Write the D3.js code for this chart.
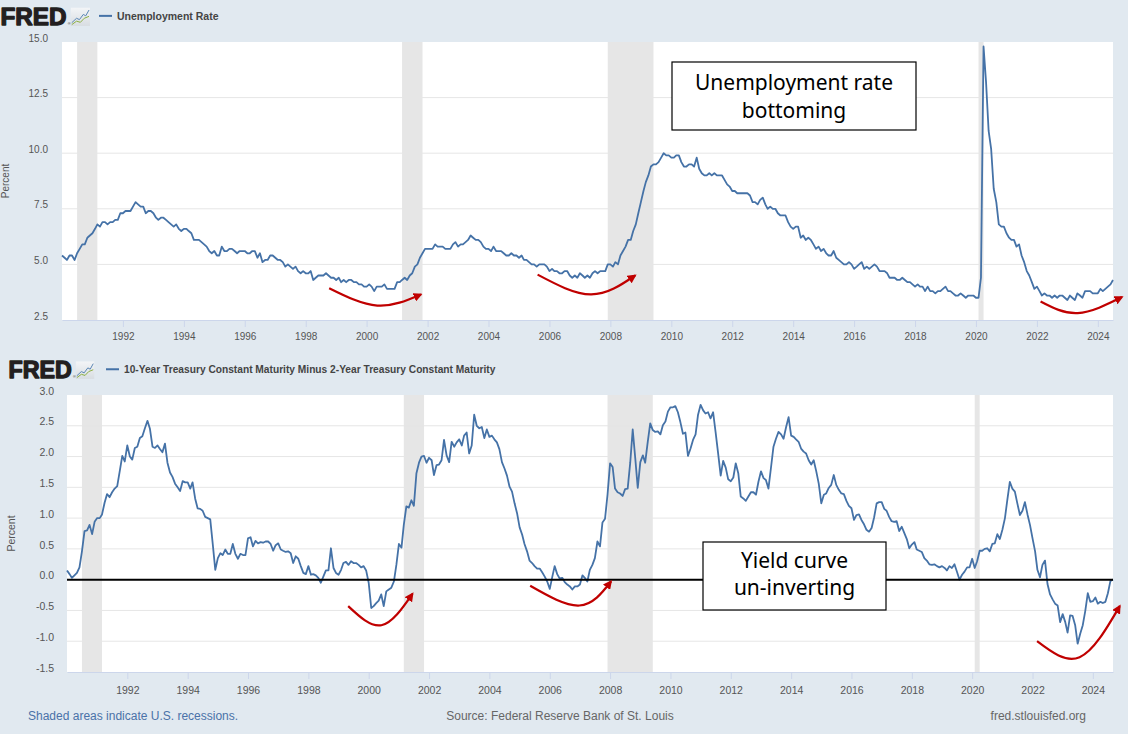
<!DOCTYPE html>
<html><head><meta charset="utf-8">
<script src="https://cdn.jsdelivr.net/npm/d3@7"></script>
<style>
html,body{margin:0;padding:0;background:#e1e9f0;}
svg{display:block;font-family:"Liberation Sans",Arial,sans-serif;}
</style></head><body>
<svg id="chart" width="1128" height="734"></svg>
<script>
// ---------------- DATA ----------------
const unrateTitle = "Unemployment Rate";
const spreadTitle = "10-Year Treasury Constant Maturity Minus 2-Year Treasury Constant Maturity";
const unrateStart = "1990-01";
const unrate = [
5.4,5.3,5.2,5.4,5.4,5.2,5.5,5.7,5.9,5.9,6.2,6.3,
6.4,6.6,6.8,6.7,6.9,6.9,6.8,6.9,6.9,7.0,7.0,7.3,
7.3,7.4,7.4,7.4,7.6,7.8,7.7,7.6,7.6,7.3,7.4,7.4,
7.3,7.1,7.0,7.1,7.1,7.0,6.9,6.8,6.7,6.8,6.6,6.5,
6.6,6.6,6.5,6.4,6.1,6.1,6.1,6.0,5.9,5.8,5.6,5.5,
5.6,5.4,5.4,5.8,5.6,5.6,5.7,5.7,5.6,5.5,5.6,5.6,
5.6,5.5,5.5,5.6,5.6,5.3,5.5,5.1,5.2,5.2,5.4,5.4,
5.3,5.2,5.2,5.1,4.9,5.0,4.9,4.8,4.9,4.7,4.6,4.7,
4.6,4.6,4.7,4.3,4.4,4.5,4.5,4.5,4.6,4.5,4.4,4.4,
4.3,4.4,4.2,4.3,4.2,4.3,4.3,4.2,4.2,4.1,4.1,4.0,
4.0,4.1,4.0,3.8,4.0,4.0,4.0,4.1,3.9,3.9,3.9,3.9,
4.2,4.2,4.3,4.4,4.3,4.5,4.6,4.9,5.0,5.3,5.5,5.7,
5.7,5.7,5.7,5.9,5.8,5.8,5.8,5.7,5.7,5.7,5.9,6.0,
5.8,5.9,5.9,6.0,6.1,6.3,6.2,6.1,6.1,6.0,5.8,5.7,
5.7,5.6,5.8,5.6,5.6,5.6,5.5,5.4,5.4,5.5,5.4,5.4,
5.3,5.4,5.2,5.2,5.1,5.0,5.0,4.9,5.0,5.0,5.0,4.9,
4.7,4.8,4.7,4.7,4.6,4.6,4.7,4.7,4.5,4.4,4.5,4.4,
4.6,4.5,4.4,4.5,4.4,4.6,4.7,4.6,4.7,4.7,4.7,5.0,
5.0,4.9,5.1,5.0,5.4,5.6,5.8,6.1,6.1,6.5,6.8,7.3,
7.8,8.3,8.7,9.0,9.4,9.5,9.5,9.6,9.8,10.0,9.9,9.9,
9.8,9.8,9.9,9.9,9.6,9.4,9.4,9.5,9.5,9.4,9.8,9.3,
9.1,9.0,9.0,9.1,9.0,9.1,9.0,9.0,9.0,8.8,8.6,8.5,
8.3,8.3,8.2,8.2,8.2,8.2,8.2,8.1,7.8,7.8,7.7,7.9,
8.0,7.7,7.5,7.6,7.5,7.5,7.3,7.2,7.2,7.2,6.9,6.7,
6.6,6.7,6.7,6.2,6.3,6.1,6.2,6.1,5.9,5.7,5.8,5.6,
5.7,5.5,5.4,5.4,5.6,5.3,5.2,5.1,5.0,5.0,5.1,5.0,
4.8,4.9,5.0,5.1,4.8,4.9,4.8,4.9,5.0,4.9,4.7,4.7,
4.7,4.6,4.4,4.4,4.4,4.3,4.3,4.4,4.3,4.2,4.2,4.1,
4.0,4.1,4.0,4.0,3.8,4.0,3.8,3.8,3.7,3.8,3.8,3.9,
4.0,3.8,3.8,3.7,3.6,3.6,3.7,3.6,3.5,3.6,3.6,3.6,
3.5,3.5,4.4,14.8,13.2,11.0,10.2,8.4,7.8,6.8,6.7,6.7,
6.4,6.2,6.1,6.1,5.8,5.9,5.4,5.1,4.7,4.5,4.2,3.9,
4.0,3.8,3.6,3.7,3.6,3.6,3.5,3.6,3.5,3.6,3.6,3.5,
3.4,3.6,3.5,3.4,3.7,3.6,3.5,3.8,3.8,3.8,3.7,3.7,
3.7,3.9,3.8,3.9,4.0,4.1,4.3
];
const spreadStart = "1990-01";
const spread = [
0.15,0.09,0.03,0.07,0.11,0.20,0.46,0.79,0.80,0.89,0.74,0.94,
1.00,1.00,1.06,1.25,1.39,1.34,1.42,1.48,1.52,1.76,2.01,1.92,
2.18,2.00,1.95,2.14,2.16,2.30,2.33,2.46,2.58,2.45,2.16,2.14,
2.18,2.12,2.07,2.21,1.90,1.74,1.67,1.56,1.50,1.44,1.60,1.58,
1.58,1.48,1.58,1.32,1.16,1.15,1.12,1.02,1.00,0.98,0.57,0.16,
0.35,0.43,0.40,0.49,0.42,0.42,0.58,0.42,0.34,0.42,0.40,0.40,
0.67,0.69,0.54,0.63,0.59,0.61,0.60,0.62,0.62,0.58,0.47,0.56,
0.59,0.49,0.47,0.45,0.46,0.43,0.27,0.38,0.34,0.22,0.11,0.09,
0.22,0.08,0.09,0.07,0.03,-0.05,0.05,0.15,0.15,0.51,0.19,0.11,
0.08,0.16,0.27,0.29,0.24,0.30,0.27,0.27,0.24,0.20,0.22,0.15,
-0.05,-0.46,-0.43,-0.38,-0.34,-0.24,-0.43,-0.19,-0.16,-0.13,-0.03,0.24,
0.58,0.52,0.89,1.19,1.17,1.29,1.20,1.73,1.90,2.00,2.01,1.90,
1.98,1.94,1.70,1.86,1.87,1.94,2.27,2.02,1.91,2.24,2.16,2.23,
2.28,2.18,2.34,2.39,2.05,2.18,2.68,2.50,2.46,2.48,2.30,2.44,
2.32,2.34,2.28,2.23,2.12,1.91,1.81,1.69,1.51,1.43,1.24,1.08,
0.85,0.73,0.58,0.46,0.31,0.27,0.22,0.18,0.18,0.12,0.05,-0.03,
-0.15,0.05,0.22,0.09,0.02,0.03,-0.04,-0.08,-0.11,-0.16,-0.11,-0.11,
-0.08,0.07,0.03,-0.03,0.16,0.24,0.35,0.62,0.54,0.93,0.99,1.38,
1.89,1.83,1.48,1.42,1.40,1.36,1.47,1.48,1.90,2.44,1.97,1.49,
1.91,2.02,1.90,2.24,2.54,2.43,2.40,2.41,2.36,2.51,2.57,2.73,
2.80,2.80,2.82,2.72,2.56,2.37,2.39,2.01,2.13,2.27,2.36,2.68,
2.84,2.75,2.70,2.72,2.62,2.72,2.40,2.05,1.69,1.93,1.82,1.63,
1.60,1.66,1.89,1.73,1.35,1.32,1.28,1.35,1.42,1.42,1.38,1.59,
1.76,1.65,1.62,1.48,1.81,2.16,2.29,2.40,2.36,2.29,2.48,2.64,
2.34,2.32,2.28,2.24,2.13,2.08,2.05,1.94,1.87,1.94,1.76,1.56,
1.24,1.38,1.40,1.49,1.54,1.70,1.54,1.46,1.40,1.39,1.28,1.20,
1.16,0.97,1.05,1.06,0.97,0.90,0.81,0.78,0.84,1.01,1.24,1.26,
1.26,1.15,1.12,1.02,0.95,0.94,0.95,0.79,0.86,0.76,0.66,0.51,
0.57,0.61,0.49,0.47,0.45,0.35,0.31,0.25,0.24,0.25,0.22,0.20,
0.22,0.19,0.15,0.22,0.19,0.25,0.13,0.00,0.08,0.13,0.20,0.20,
0.34,0.19,0.30,0.47,0.47,0.50,0.51,0.46,0.58,0.59,0.74,0.66,
0.81,1.00,1.29,1.59,1.48,1.43,1.24,1.05,1.12,1.26,1.06,0.89,
0.67,0.46,0.16,0.04,0.24,0.31,-0.07,-0.24,-0.32,-0.39,-0.42,-0.69,
-0.56,-0.69,-0.86,-0.58,-0.59,-0.74,-1.04,-0.88,-0.74,-0.51,-0.22,-0.36,
-0.35,-0.29,-0.39,-0.36,-0.38,-0.36,-0.22,-0.02,0.00
];
const recessionStarts = ["1990-07","2001-03","2007-12","2020-02"];
const recessionEnds   = ["1991-03","2001-11","2009-06","2020-04"];
const xTickYears = [1992,1994,1996,1998,2000,2002,2004,2006,2008,2010,2012,2014,2016,2018,2020,2022,2024];
const unrateTicks = [2.5,5.0,7.5,10.0,12.5,15.0];
const spreadTicks = [-1.5,-1.0,-0.5,0.0,0.5,1.0,1.5,2.0,2.5,3.0];
const unrateNote = ["Unemployment rate","bottoming"];
const spreadNote = ["Yield curve","un-inverting"];
// annotation arrows: [decimal year, value] start / low point / end
const unrateArrows = [
  [[1998.77,3.93],[2000.35,3.15],[2001.78,3.65]],
  [[2005.61,4.54],[2007.36,3.65],[2008.81,4.50]],
  [[2022.12,3.33],[2023.34,2.81],[2024.79,3.53]]
];
const spreadArrows = [
  [[1999.32,-0.43],[2000.42,-0.74],[2001.45,-0.23]],
  [[2005.35,-0.10],[2006.98,-0.42],[2008.03,-0.03]],
  [[2022.15,-1.00],[2023.56,-1.26],[2024.89,-0.43]]
];

// ---------------- HELPERS ----------------
const parseM = d3.timeParse("%Y-%m");
function monthly(start, vals){
  const s = parseM(start);
  return vals.map((v,i)=>({date:new Date(s.getFullYear(), s.getMonth()+i, 1), value:v}));
}
function decYear(y){ const yr=Math.floor(y); const f=y-yr; const a=new Date(yr,0,1), b=new Date(yr+1,0,1); return new Date(+a + f*(b-a)); }

const svg = d3.select("#chart");
const defs = svg.append("defs");
defs.append("marker").attr("id","ah").attr("viewBox","0 0 10 10")
  .attr("refX",8).attr("refY",5).attr("markerWidth",9).attr("markerHeight",9)
  .attr("markerUnits","userSpaceOnUse").attr("orient","auto")
  .append("path").attr("d","M0,0 L10,5 L0,10 z").attr("fill","#c00000");
const ig = defs.append("linearGradient").attr("id","iconbg").attr("x1",0).attr("y1",0).attr("x2",0).attr("y2",1);
ig.append("stop").attr("offset","0").attr("stop-color","#f3f5f7");
ig.append("stop").attr("offset","1").attr("stop-color","#d8dde2");

function logo(x, y, title, legendX, legendTextX, fs, titleFs){
  const g = svg.append("g").attr("transform",`translate(${x},${y})`);
  g.append("text").attr("x",0.5).attr("y",0).attr("font-size",fs).attr("font-weight","bold")
    .attr("font-family","'Liberation Sans',Arial,sans-serif")
    .attr("fill","#231f20").attr("stroke","#231f20").attr("stroke-width",1.3).attr("stroke-linejoin","round")
    .attr("textLength",fs*2.75).attr("lengthAdjust","spacingAndGlyphs").text("FRED");
  g.append("text").attr("x",fs*2.8+0.5).attr("y",-0.5).attr("font-size",4).attr("fill","#231f20").text("®");
  const ix = fs*2.95, iy = -fs*0.72;
  g.append("rect").attr("x",ix).attr("y",iy).attr("width",fs*0.8).attr("height",fs*0.76).attr("fill","url(#iconbg)");
  const s = fs*0.8;
  g.append("path").attr("d",`M${ix+1},${iy+s*0.78} L${ix+s*0.3},${iy+s*0.55} L${ix+s*0.45},${iy+s*0.62} L${ix+s*0.65},${iy+s*0.35} L${ix+s*0.78},${iy+s*0.42} L${ix+s-1},${iy+s*0.12}`)
    .attr("fill","none").attr("stroke","#5b87b5").attr("stroke-width",1);
  g.append("path").attr("d",`M${ix+1},${iy+s*0.88} L${ix+s*0.3},${iy+s*0.7} L${ix+s*0.5},${iy+s*0.76} L${ix+s*0.7},${iy+s*0.55} L${ix+s-1},${iy+s*0.45}`)
    .attr("fill","none").attr("stroke","#8cb043").attr("stroke-width",1);
  svg.append("line").attr("x1",legendX).attr("x2",legendX+13).attr("y1",y-fs*0.38).attr("y2",y-fs*0.38)
    .attr("stroke","#4572a7").attr("stroke-width",2);
  svg.append("text").attr("x",legendTextX).attr("y",y-fs*0.38).attr("dy","0.35em")
    .attr("font-size",titleFs).attr("font-weight","bold").attr("fill","#444").text(title);
}

function panel(opt){
  const {data, left, right, top, bottom, yDomain, yTicks, arrows, yLabelX, fsTick, xLabelOffset, zero} = opt;
  const x = d3.scaleTime().domain([data[0].date, data[data.length-1].date]).range([left, right]);
  const y = d3.scaleLinear().domain(yDomain).range([bottom, top]);
  const g = svg.append("g");
  g.append("rect").attr("x",left).attr("y",top).attr("width",right-left).attr("height",bottom-top).attr("fill","#fff");
  // recessions
  recessionStarts.forEach((s,i)=>{
    const x0 = x(parseM(s)), x1 = x(parseM(recessionEnds[i]));
    g.append("rect").attr("x",x0).attr("y",top).attr("width",Math.max(x1-x0,3)).attr("height",bottom-top).attr("fill","#e6e6e6");
  });
  // gridlines
  yTicks.forEach(v=>{
    if (v===yDomain[0] || v===yDomain[1]) return;
    g.append("line").attr("x1",left).attr("x2",right).attr("y1",y(v)).attr("y2",y(v)).attr("stroke","#e6e6e6").attr("stroke-width",1);
  });
  // x axis
  const xa = d3.axisBottom(x).tickValues(xTickYears.map(yr=>new Date(yr,0,1))).tickFormat(d3.timeFormat("%Y"))
    .tickSize(7).tickPadding(xLabelOffset).tickSizeOuter(0);
  const axg = g.append("g").attr("transform",`translate(0,${bottom})`).call(xa);
  axg.select(".domain").attr("stroke","#ccd6eb");
  axg.selectAll(".tick line").attr("stroke","#ccd6eb");
  axg.selectAll("text").attr("fill","#555").attr("font-size",fsTick).attr("font-family","'Liberation Sans',Arial,sans-serif");
  // y labels
  yTicks.forEach(v=>{
    g.append("text").attr("x",yLabelX).attr("y",y(v)-4).attr("dy","0.35em").attr("text-anchor","end")
      .attr("font-size",fsTick).attr("fill","#555").text(v.toFixed(1));
  });
  g.append("text").attr("transform",`translate(${yLabelX-39},${(top+bottom)/2}) rotate(-90)`).attr("text-anchor","middle")
    .attr("font-size",fsTick).attr("fill","#555").text("Percent");
  // line
  const line = d3.line().x(d=>x(d.date)).y(d=>y(d.value));
  g.append("path").datum(data).attr("d",line).attr("fill","none").attr("stroke","#4572a7").attr("stroke-width",1.8).attr("stroke-linejoin","round");
  if (zero) {
    g.append("line").attr("x1",left).attr("x2",right).attr("y1",y(0)).attr("y2",y(0)).attr("stroke","#000").attr("stroke-width",2);
  }
  // arrows
  const al = d3.line().x(p=>x(decYear(p[0]))).y(p=>y(p[1])).curve(d3.curveNatural);
  arrows.forEach(a=>{
    g.append("path").attr("d",al(a)).attr("fill","none").attr("stroke","#c00000").attr("stroke-width",2.2).attr("marker-end","url(#ah)");
  });
  return {x,y};
}

function note(x0,y0,x1,y1,lines,baselines){
  svg.append("rect").attr("x",x0).attr("y",y0).attr("width",x1-x0).attr("height",y1-y0).attr("fill","#fff").attr("stroke","#000").attr("stroke-width",1.2);
  const t = svg.append("text").attr("text-anchor","middle")
    .attr("font-family","'Comic Sans MS','Noto Sans',sans-serif").attr("font-size",21).attr("fill","#000");
  lines.forEach((s,i)=>{
    t.append("tspan").attr("x",(x0+x1)/2).attr("y",baselines[i]).text(s);
  });
}

// ---------------- DRAW ----------------
logo(0, 25, unrateTitle, 99, 117, 24, 10.5);
panel({data:monthly(unrateStart, unrate), left:62, right:1113, top:42, bottom:320, yDomain:[2.5,15], yTicks:unrateTicks,
  arrows:unrateArrows, yLabelX:48, fsTick:10, xLabelOffset:6, zero:false});
note(672,62,916,130,unrateNote,[90,118]);

logo(8, 378, spreadTitle, 106, 124, 23, 10.2);
panel({data:monthly(spreadStart, spread), left:67, right:1113, top:395, bottom:672, yDomain:[-1.5,3], yTicks:spreadTicks,
  arrows:spreadArrows, yLabelX:54, fsTick:10.5, xLabelOffset:8, zero:true});
note(703,542,886,610,spreadNote,[568,595]);

// footer
svg.append("text").attr("x",28).attr("y",716).attr("dy","0.35em").attr("font-size",12).attr("fill","#4a72a8").text("Shaded areas indicate U.S. recessions.");
svg.append("text").attr("x",560).attr("y",716).attr("dy","0.35em").attr("text-anchor","middle").attr("font-size",12).attr("fill","#666").text("Source: Federal Reserve Bank of St. Louis");
svg.append("text").attr("x",1086).attr("y",716).attr("dy","0.35em").attr("text-anchor","end").attr("font-size",12).attr("fill","#666").text("fred.stlouisfed.org");
</script>
</body></html>
